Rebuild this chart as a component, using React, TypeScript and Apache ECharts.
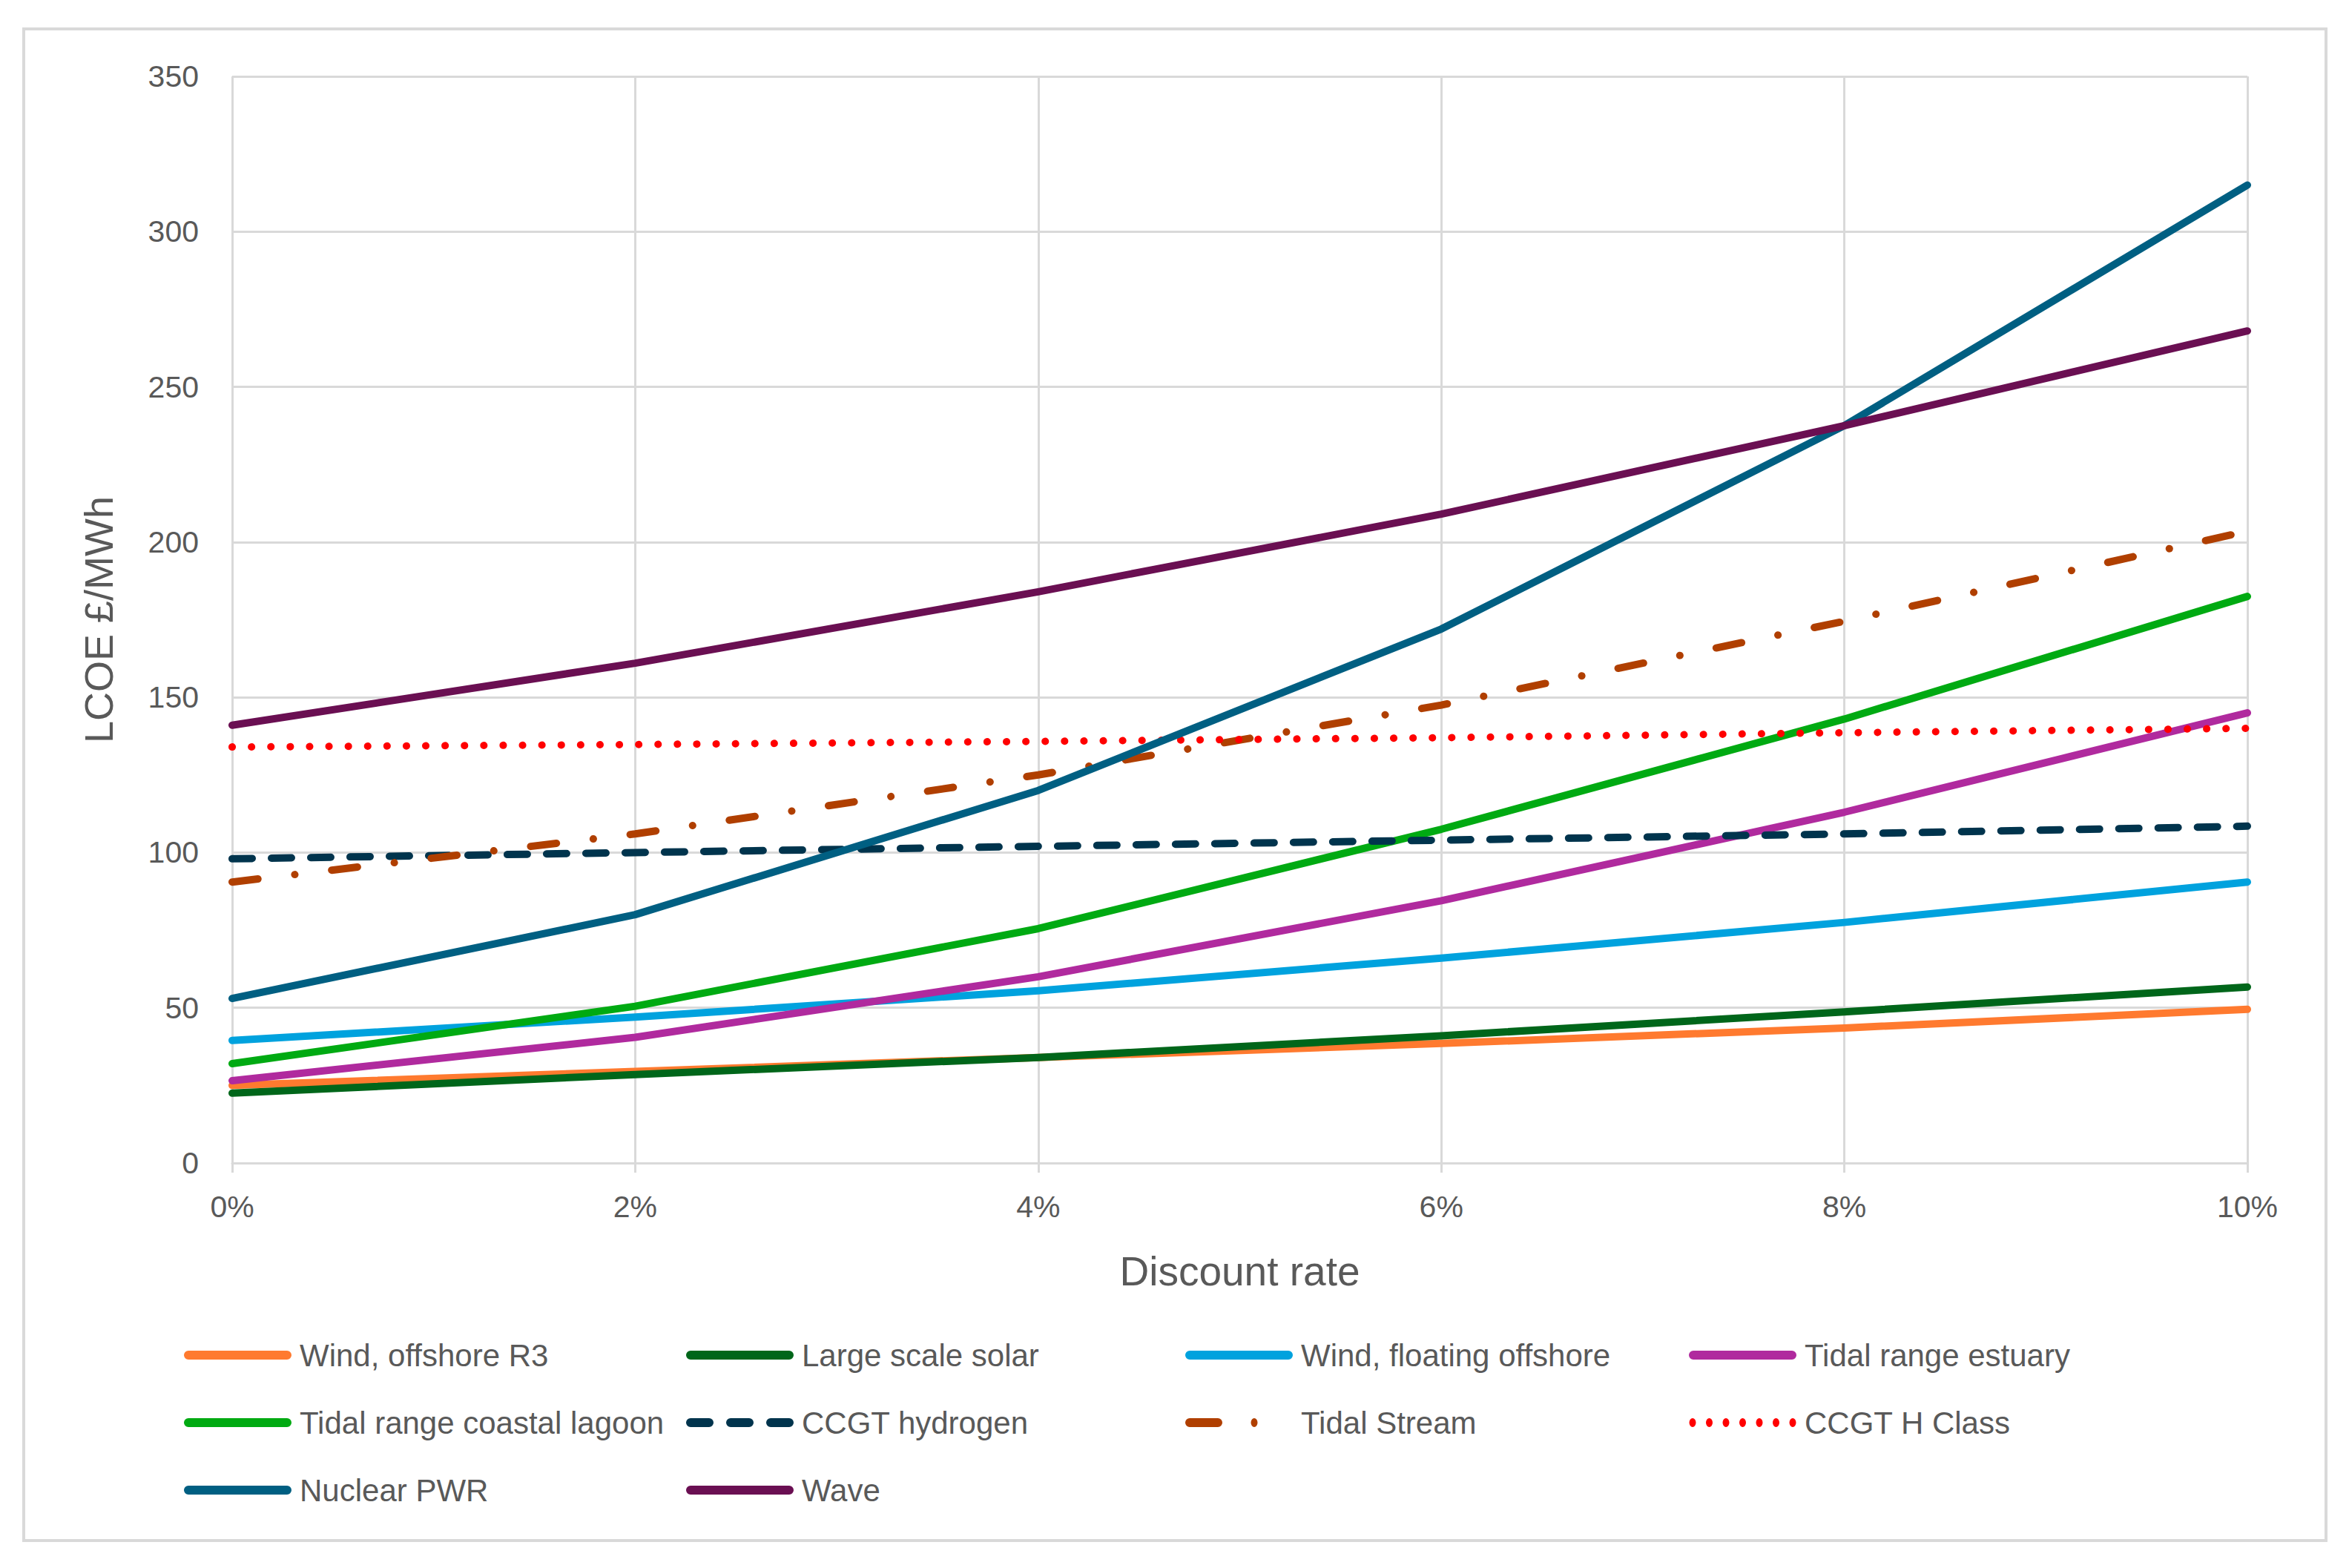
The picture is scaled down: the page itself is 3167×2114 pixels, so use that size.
import React, { useEffect, useRef } from "react";
import * as echarts from "echarts";

const rates = [0, 2, 4, 6, 8, 10];
const yTicks = { min: 0, max: 350, interval: 50 };

const windOffshoreR3 = [25, 29.5, 34, 38.5, 43.5, 49.5];
const largeScaleSolar = [22.5, 28.5, 34, 41, 48.7, 56.7];
const windFloatingOffshore = [39.5, 47, 55.5, 66, 77.5, 90.5];
const tidalRangeEstuary = [26.5, 40.5, 60, 84.5, 113, 145];
const tidalRangeLagoon = [32, 50.5, 75.5, 107.5, 143, 182.5];
const ccgtHydrogen = [98, 100, 102, 104, 106, 108.5];
const tidalStream = [90.5, 106, 125, 147.5, 174.5, 203.5];
const ccgtHClass = [134, 134.8, 135.8, 137, 138.6, 140];
const nuclearPWR = [53, 80, 120, 172, 237.5, 315];
const wave = [141, 161, 184, 209, 237.5, 268];

// legend icon shapes (145 x 12 box)
const BOX = "M0,0 Z M145,12 Z ";
const bar = (a: number, b: number) =>
  `M${a + 6},0 L${b - 6},0 A6,6 0 0 1 ${b - 6},12 L${a + 6},12 A6,6 0 0 1 ${a + 6},0 Z `;
const dot = (cx: number, rx: number) =>
  `M${cx - rx},6 A${rx},6 0 1 0 ${cx + rx},6 A${rx},6 0 1 0 ${cx - rx},6 Z `;
const ICON_SOLID = "path://" + BOX + bar(0, 145);
const ICON_DASH = "path://" + BOX + bar(0, 37) + bar(54, 91) + bar(108, 145);
const ICON_DASHDOT = "path://" + BOX + bar(0, 50) + dot(93, 4.5);
const ICON_DOT =
  "path://" + BOX + [5, 27.5, 50, 72.5, 95, 117.5, 140].map((c) => dot(c, 4.5)).join("");

const seriesDefs = [
  { name: "Wind, offshore R3", data: windOffshoreR3, color: "#FF7A2F", type: "solid" as any, icon: ICON_SOLID },
  { name: "Large scale solar", data: largeScaleSolar, color: "#00661A", type: "solid" as any, icon: ICON_SOLID },
  { name: "Wind, floating offshore", data: windFloatingOffshore, color: "#00A2DE", type: "solid" as any, icon: ICON_SOLID },
  { name: "Tidal range estuary", data: tidalRangeEstuary, color: "#B02A9E", type: "solid" as any, icon: ICON_SOLID },
  { name: "Tidal range coastal lagoon", data: tidalRangeLagoon, color: "#00AA12", type: "solid" as any, icon: ICON_SOLID },
  { name: "CCGT hydrogen", data: ccgtHydrogen, color: "#00344D", type: [27, 26] as any, icon: ICON_DASH },
  { name: "Tidal Stream", data: tidalStream, color: "#B03F00", type: [35, 50, 0.1, 50] as any, icon: ICON_DASHDOT },
  { name: "CCGT H Class", data: ccgtHClass, color: "#FF0000", type: [0.1, 26] as any, icon: ICON_DOT },
  { name: "Nuclear PWR", data: nuclearPWR, color: "#005F82", type: "solid" as any, icon: ICON_SOLID },
  { name: "Wave", data: wave, color: "#6A0F52", type: "solid" as any, icon: ICON_SOLID },
];

const legendCols = [248, 925, 1598, 2277];
const legendRows = [1826, 1917, 2008];

const FONT = "'Liberation Sans', Arial, sans-serif";
const TEXT = "#595959";
const GRID = "#D9D9D9";

export default function App() {
  const ref = useRef<HTMLDivElement>(null);
  useEffect(() => {
    document.body.style.margin = "0";
    const chart = echarts.init(ref.current!, null, { renderer: "svg" });
    const legends = seriesDefs.map((s, i) => ({
      show: true,
      data: [{ name: s.name, icon: s.icon }],
      left: legendCols[i % 4],
      top: legendRows[Math.floor(i / 4)] - 20,
      padding: 0,
      itemWidth: 145,
      itemHeight: 12,
      orient: "horizontal",
      selectedMode: false,
      textStyle: { fontSize: 42, color: TEXT, fontFamily: FONT, padding: [0, 0, 0, 6] },
    }));
    chart.setOption({
      animation: false,
      backgroundColor: "#ffffff",
      textStyle: { fontFamily: FONT },
      grid: { left: 313, right: 137, top: 103, bottom: 546, containLabel: false },
      graphic: [
        {
          type: "rect",
          shape: { x: 32, y: 39, width: 3104, height: 2038 },
          style: { fill: "none", stroke: GRID, lineWidth: 4 },
          silent: true,
        },
      ],
      legend: legends,
      xAxis: {
        type: "value",
        min: 0,
        max: 10,
        interval: 2,
        name: "Discount rate",
        nameLocation: "middle",
        nameGap: 118,
        nameTextStyle: { fontSize: 55, color: TEXT, fontFamily: FONT },
        axisLine: { show: true, lineStyle: { color: GRID, width: 3 } },
        axisTick: { show: true, length: 13, lineStyle: { color: GRID, width: 3 } },
        splitLine: { show: true, lineStyle: { color: GRID, width: 3 } },
        axisLabel: { formatter: "{value}%", fontSize: 41, color: TEXT, margin: 38, fontFamily: FONT },
      },
      yAxis: {
        type: "value",
        min: yTicks.min,
        max: yTicks.max,
        interval: yTicks.interval,
        name: "LCOE £/MWh",
        nameLocation: "middle",
        nameGap: 153,
        nameTextStyle: { fontSize: 54, color: TEXT, fontFamily: FONT },
        axisLine: { show: false },
        axisTick: { show: false },
        splitLine: { show: true, lineStyle: { color: GRID, width: 3 } },
        axisLabel: { fontSize: 41, color: TEXT, margin: 45, fontFamily: FONT },
      },
      series: seriesDefs.map((s) => ({
        name: s.name,
        type: "line",
        symbol: "none",
        showSymbol: false,
        data: rates.map((r, i) => [r, s.data[i]]),
        color: s.color,
        itemStyle: { color: s.color },
        lineStyle: { color: s.color, width: 10, type: s.type, cap: "round", join: "round" },
        z: 3,
      })),
    });
    return () => chart.dispose();
  }, []);
  return <div ref={ref} style={{ position: "fixed", left: 0, top: 0, width: "100vw", height: "100vh" }} />;
}
